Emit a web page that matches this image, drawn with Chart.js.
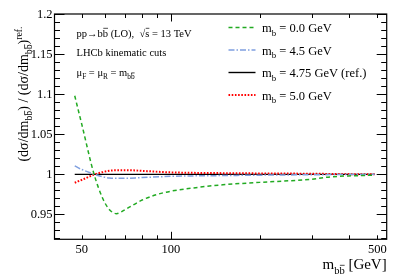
<!DOCTYPE html>
<html lang="en">
<head>
<meta charset="UTF-8">
<title>mb dependence</title>
<style>
  html, body { margin: 0; padding: 0; background: #fff; }
  canvas { display: block; }
</style>
</head>
<body>
<canvas id="myChart" width="407" height="277"></canvas>
<script src="https://cdn.jsdelivr.net/npm/chart.js"></script>
<script>
// values
const mb0X   = [47.3, 50, 55, 59, 62, 65.5, 70, 80, 90, 100, 125, 150, 200, 300, 350, 400, 490];
const mb0Y   = [1.098, 1.062, 1.0, 0.969, 0.956, 0.951, 0.956, 0.968, 0.975, 0.979, 0.984, 0.987, 0.990, 0.994, 0.997, 0.998, 0.999];
const mb45X  = [47.3, 50, 53.3, 57.5, 62, 68, 80, 100, 150, 250, 490];
const mb45Y  = [1.0105, 1.006, 1.002, 0.998, 0.9955, 0.995, 0.996, 0.9975, 0.9985, 0.9993, 1.0];
const mb475X = [47.3, 490];
const mb475Y = [1.0, 1.0];
const mb50X  = [47.3, 51, 55.3, 59, 64, 71, 83, 100, 150, 250, 490];
const mb50Y  = [0.9895, 0.9945, 1.0, 1.003, 1.005, 1.0052, 1.004, 1.0025, 1.0015, 1.001, 1.0];

const yTickValues = [0.95, 1, 1.05, 1.1, 1.15, 1.2];
const yTickLabels = ['0.95', '1', '1.05', '1.1', '1.15', '1.2'];
const xTickValues = [50, 100, 500];
const xTickLabels = ['50', '100', '500'];
const xMinorTicks = [50, 60, 70, 80, 90, 200, 300, 400, 500];

const legendLabels = ['0.0 GeV', '4.5 GeV', '4.75 GeV (ref.)', '5.0 GeV'];

const SERIF = '"Liberation Serif", "DejaVu Serif", serif';

function pts(xs, ys) {
  return xs.map((x, i) => ({x: x, y: ys[i]}));
}

// draw text made of pieces: ['text', kind] with kind '', 'sub', 'sup', 'bar', 'subbar'
function richWidth(ctx, parts, fs) {
  let w = 0;
  parts.forEach(p => {
    const small = p[1] === 'sub' || p[1] === 'sup' || p[1] === 'subbar';
    ctx.font = (small ? fs * 0.7 : fs) + 'px ' + SERIF;
    w += ctx.measureText(p[0]).width;
  });
  return w;
}

function drawRich(ctx, parts, x, y, fs, align) {
  const total = richWidth(ctx, parts, fs);
  if (align === 'right') x -= total;
  if (align === 'center') x -= total / 2;
  ctx.textAlign = 'left';
  ctx.textBaseline = 'alphabetic';
  parts.forEach(p => {
    const kind = p[1];
    const small = kind === 'sub' || kind === 'sup' || kind === 'subbar';
    const size = small ? fs * 0.7 : fs;
    let yy = y;
    if (kind === 'sub' || kind === 'subbar') yy = y + fs * 0.3;
    if (kind === 'sup') yy = y - fs * 0.45;
    ctx.font = size + 'px ' + SERIF;
    ctx.fillText(p[0], x, yy);
    const w = ctx.measureText(p[0]).width;
    if (kind === 'bar' || kind === 'subbar') {
      ctx.beginPath();
      ctx.lineWidth = Math.max(0.7, size * 0.06);
      ctx.moveTo(x + size * 0.05, yy - size * 0.78);
      ctx.lineTo(x + w, yy - size * 0.78);
      ctx.stroke();
    }
    x += w;
  });
}

const seriesStyle = [
  {color: '#22aa22', width: 1.5, dash: [4, 3]},
  {color: '#7f9fdf', width: 1.5, dash: [6, 2, 1.5, 2]},
  {color: '#000000', width: 1.4, dash: []},
  {color: '#ff0000', width: 2, dash: [1.6, 1.6]}
];

const framePlugin = {
  id: 'frame',
  beforeDraw(chart) {
    const c = chart.ctx;
    c.save();
    c.fillStyle = '#fff';
    c.fillRect(0, 0, chart.width, chart.height);
    c.restore();
  },
  afterDraw(chart) {
    const c = chart.ctx;
    const a = chart.chartArea;
    const xs = chart.scales.x, ys = chart.scales.y;
    c.save();
    c.strokeStyle = '#000';
    c.fillStyle = '#000';
    c.lineWidth = 1.2;
    c.strokeRect(a.left, a.top, a.right - a.left, a.bottom - a.top);

    // y ticks, both sides, inside
    c.lineWidth = 1;
    c.beginPath();
    for (let i = 92; i <= 120; i++) {
      const v = i / 100;
      const py = Math.round(ys.getPixelForValue(v)) + 0.5;
      if (py < a.top || py > a.bottom) continue;
      const major = i % 5 === 0;
      const len = major ? 10 : 5.5;
      c.moveTo(a.left, py); c.lineTo(a.left + len, py);
      c.moveTo(a.right, py); c.lineTo(a.right - len, py);
    }
    // x ticks, top and bottom
    xMinorTicks.forEach(v => {
      const px = Math.round(xs.getPixelForValue(v)) + 0.5;
      c.moveTo(px, a.bottom); c.lineTo(px, a.bottom - 4);
      c.moveTo(px, a.top); c.lineTo(px, a.top + 4);
    });
    const p100 = Math.round(xs.getPixelForValue(100)) + 0.5;
    c.moveTo(p100, a.bottom); c.lineTo(p100, a.bottom - 7.5);
    c.moveTo(p100, a.top); c.lineTo(p100, a.top + 7.5);
    c.stroke();

    // tick labels
    c.font = '12.5px ' + SERIF;
    c.textAlign = 'right';
    c.textBaseline = 'middle';
    yTickValues.forEach((v, i) => {
      c.fillText(yTickLabels[i], a.left - 2, ys.getPixelForValue(v) + 0.5);
    });
    c.textAlign = 'center';
    c.textBaseline = 'top';
    xTickValues.forEach((v, i) => {
      c.fillText(xTickLabels[i], xs.getPixelForValue(v), a.bottom + 4);
    });

    // axis titles
    drawRich(c, [['m', ''], ['b', 'sub'], ['b', 'subbar'], [' [GeV]', '']], a.right, 269, 15, 'right');
    c.save();
    c.translate(28, 94);
    c.rotate(-Math.PI / 2);
    drawRich(c, [['(d\u03c3/dm', ''], ['b', 'sub'], ['b', 'subbar'], [') / (d\u03c3/dm', ''],
                 ['b', 'sub'], ['b', 'subbar'], [')', ''], ['ref.', 'sup']], 0, 0, 14, 'center');
    c.restore();

    // annotations
    drawRich(c, [['pp\u2192b', ''], ['b', 'bar'], [' (LO),  ', ''], ['\u221a', ''], ['s', 'bar'], [' = 13 TeV', '']], 76.5, 36.5, 10.5, 'left');
    drawRich(c, [['LHCb kinematic cuts', '']], 76.5, 56, 10.5, 'left');
    drawRich(c, [['\u03bc', ''], ['F', 'sub'], [' = \u03bc', ''], ['R', 'sub'], [' = m', ''], ['b', 'sub'], ['b', 'subbar']], 76.5, 75.5, 10.5, 'left');

    // legend
    const rows = [27.5, 50, 72.5, 95];
    seriesStyle.forEach((s, i) => {
      c.save();
      c.strokeStyle = s.color;
      c.lineWidth = s.width;
      c.setLineDash(s.dash);
      c.beginPath();
      c.moveTo(228.5, rows[i]);
      c.lineTo(255.5, rows[i]);
      c.stroke();
      c.restore();
      drawRich(c, [['m', ''], ['b', 'sub'], [' = ' + legendLabels[i], '']], 262, rows[i] + 4.5, 12.5, 'left');
    });
    c.restore();
  }
};

const ctx = document.getElementById('myChart');
const seriesData = [pts(mb0X, mb0Y), pts(mb45X, mb45Y), pts(mb475X, mb475Y), pts(mb50X, mb50Y)];

new Chart(ctx, {
  type: 'scatter',
  data: {
    datasets: seriesData.map((d, i) => ({
      label: legendLabels[i],
      data: d,
      showLine: true,
      pointRadius: 0,
      borderColor: seriesStyle[i].color,
      borderWidth: seriesStyle[i].width,
      borderDash: seriesStyle[i].dash,
      cubicInterpolationMode: 'monotone',
      fill: false,
      order: i === 2 ? 5 : i
    }))
  },
  options: {
    responsive: false,
    animation: false,
    devicePixelRatio: 1,
    layout: { padding: { left: 54.5, right: 20.3, top: 14, bottom: 37.7 } },
    plugins: { legend: { display: false }, tooltip: { enabled: false } },
    scales: {
      x: { type: 'logarithmic', min: 40.4, max: 538, display: false },
      y: { min: 0.919, max: 1.2, display: false }
    }
  },
  plugins: [framePlugin]
});
</script>
</body>
</html>
